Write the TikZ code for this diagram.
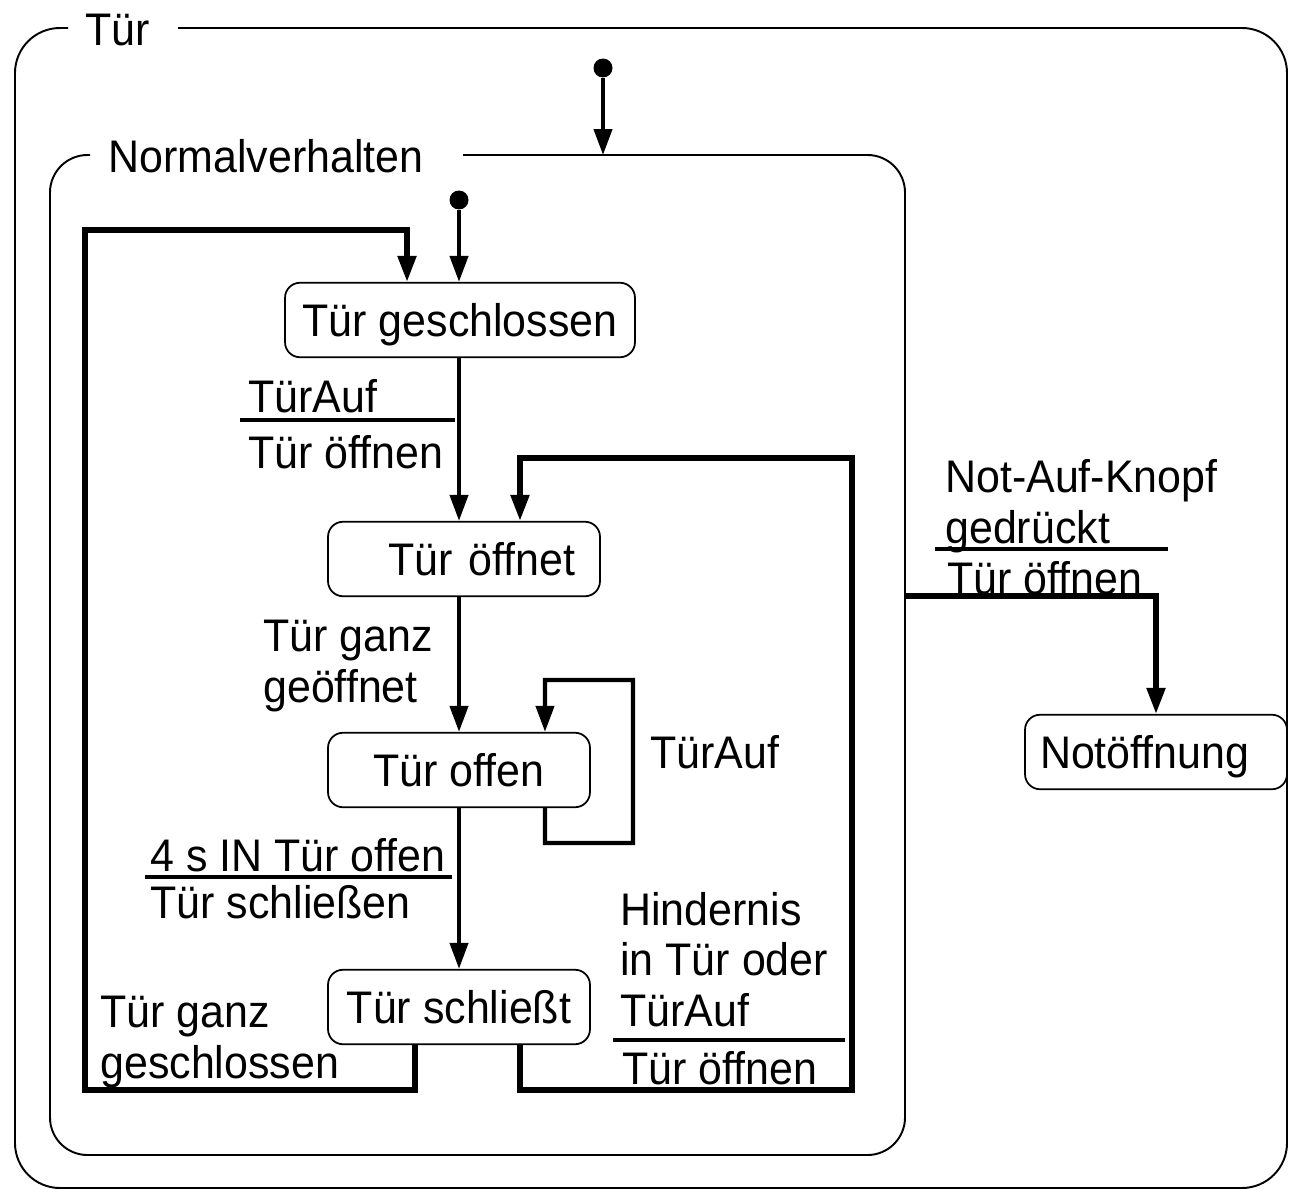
\documentclass[tikz,border=0pt]{standalone}
\usepackage{fontspec}
\setmainfont{Liberation Sans}[FakeStretch=0.94]
\usetikzlibrary{arrows.meta}

\tikzset{
  zustand/.style={draw, line width=1pt, rounded corners=0.3cm, minimum height=1.49cm, inner sep=0pt, text depth=0pt},
  trans/.style={line width=2.4pt, -{Triangle[length=5.2mm,width=3.6mm]}},
  start/.style={circle, fill, inner sep=0pt, minimum size=0.38cm},
  txt/.style={anchor=base west, align=left, inner sep=0pt},
  bar/.style={line width=2.2pt},
  rahmen/.style={line width=1.1pt, rounded corners=0.9cm}
}

\begin{document}
\begin{tikzpicture}[x=0.02cm, y=-0.02cm, font=\fontsize{26}{28.5}\selectfont]
  \useasboundingbox (0,0) rectangle (1289,1190);
  % Rahmen
  \draw[rahmen] (178,28) -- (1287,28) -- (1287,1188) -- (15,1188) -- (15,28) -- (68,28);
  \node[txt] (tuer) at (85,45) {Tür};
  \draw[rahmen, rounded corners=0.75cm] (463,155) -- (905,155) -- (905,1155) -- (50,1155) -- (50,155) -- (90,155);
  \node[txt] (normal) at (108,172) {Normalverhalten};

  % Zustaende
  \node[zustand, minimum width=7cm] (gesch) at (460,320) {Tür geschlossen};
  \node[zustand, minimum width=5.44cm, text width=4.44cm, align=right] (oeffnet) at (464,559) {Tür öffnet};
  \node[zustand, minimum width=5.24cm] (offen) at (459,770) {Tür offen};
  \node[zustand, minimum width=5.24cm] (schl) at (459,1007) {Tür schließt};
  \node[zustand, minimum width=5.24cm, text width=4.64cm, align=left] (notauf) at (1156,752) {Notöffnung};

  \node[start] (init) at (603,68) {};
  \coordinate (nvtop) at (603,155);
  \node[start] (initnv) at (459,200) {};
  \coordinate (nvrand) at (905,596);

  % Uebergaenge
  \draw[trans] (init) -- (nvtop);
  \draw[trans] (initnv) -- (initnv |- gesch.north);
  \draw[trans] (initnv |- gesch.south) -- (initnv |- oeffnet.north);
  \draw[trans] (initnv |- oeffnet.south) -- (initnv |- offen.north);
  \draw[trans] (offen) -- (schl);
  \draw[trans] ([xshift=1.72cm]offen.south) |- (633,843) |- (545,680) -- ([xshift=1.72cm]offen.north);
  \draw[trans, line width=3pt] ([xshift=-0.88cm]schl.south) |- (85,1090) -- (85,230) -| ([xshift=-1.06cm]gesch.north);
  \draw[trans, line width=3pt] ([xshift=1.22cm]schl.south) |- (852,1090) -- (852,458) -| ([xshift=1.12cm]oeffnet.north);
  \draw[trans, line width=3pt] (nvrand) -| (notauf.north);

  % Beschriftungen
  \node[txt] (ev1) at (248,412) {TürAuf};
  \draw[bar] (240,420) -- (455,420);
  \node[txt] (ak1) at (248,468) {Tür öffnen};
  \node[txt] (ev2) at (263,702) {Tür ganz\\geöffnet};
  \node[txt] (ev3) at (650,768) {TürAuf};
  \node[txt] (ev4) at (150,871) {4 s IN Tür offen};
  \draw[bar] (145,877) -- (452,877);
  \node[txt] (ak4) at (150,918) {Tür schließen};
  \node[txt] (ev5) at (620,1026) {Hindernis\\in Tür oder\\TürAuf};
  \draw[bar] (613,1040) -- (845,1040);
  \node[txt] (ak5) at (622,1084) {Tür öffnen};
  \node[txt] (ev6) at (100,1078) {Tür ganz\\geschlossen};
  \node[txt] (ev7) at (945,543) {Not-Auf-Knopf\\gedrückt};
  \draw[bar] (935,549) -- (1168,549);
  \node[txt] (ak7) at (947,594) {Tür öffnen};
\end{tikzpicture}
\end{document}
